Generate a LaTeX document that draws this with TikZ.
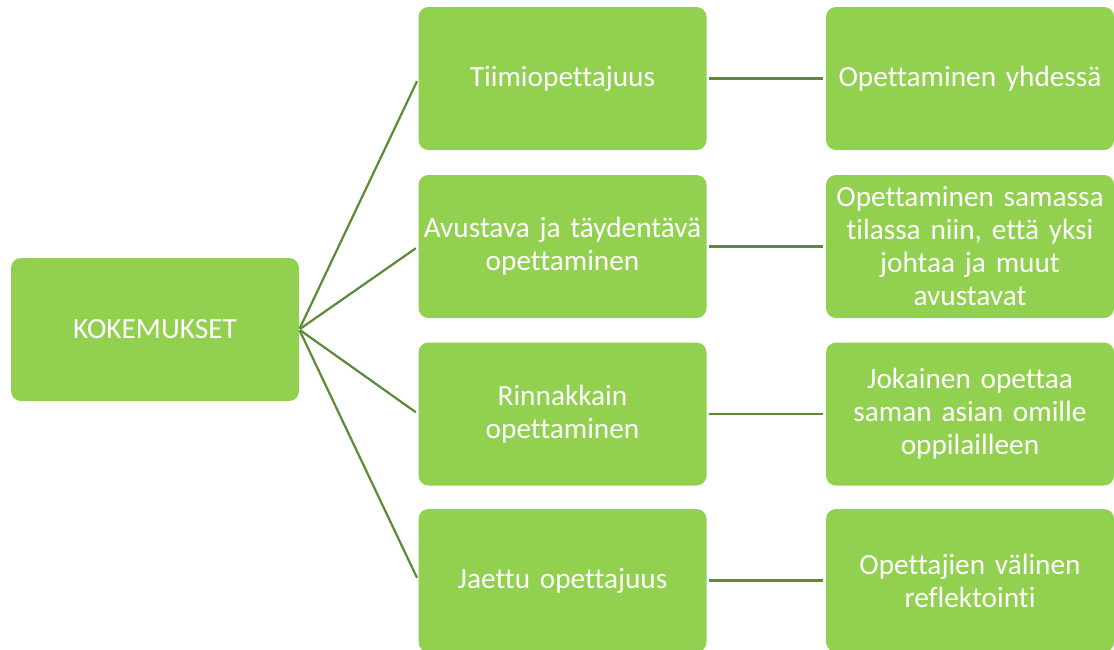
\documentclass[tikz,border=0pt]{standalone}
\usepackage{fontspec}
\setmainfont[Ligatures={NoCommon,NoContextual},Contextuals={NoAlternate}]{Carlito}
\definecolor{boxgreen}{HTML}{92D050}
\definecolor{linegreen}{HTML}{5B8C35}
\begin{document}
\begin{tikzpicture}[x=1pt,y=-1pt,
  gbox/.style={rectangle, rounded corners=10pt, fill=boxgreen, draw=none,
    minimum width=288pt, minimum height=143pt, inner sep=0pt,
    text=white, align=center, text width=284pt,
    font=\fontsize{29.3}{33}\selectfont},
  conn/.style={draw=linegreen, line width=2.2pt}]
\useasboundingbox (0,0) rectangle (1114,649);
\clip (0,0) rectangle (1114,649);
\node[gbox] (K) at (155,329.5) {KOKEMUKSET};
\node[gbox] (M1) at (562.5,78.5) {Tiimiopettajuus};
\node[gbox] (M2) at (562.5,246.5) {Avustava ja täydentävä\\opettaminen};
\node[gbox] (M3) at (562.5,414) {Rinnakkain\\opettaminen};
\node[gbox] (M4) at (562.5,580.5) {Jaettu opettajuus};
\node[gbox] (R1) at (970,78.5) {Opettaminen yhdessä};
\node[gbox] (R2) at (970,246.5) {Opettaminen samassa\\tilassa niin, että yksi\\johtaa ja muut\\avustavat};
\node[gbox] (R3) at (970,414) {Jokainen opettaa\\saman asian omille\\oppilailleen};
\node[gbox] (R4) at (970,580.5) {Opettajien välinen\\reflektointi};
\foreach \m in {M1,M2,M3,M4}{
  \draw[conn, shorten <=1pt, shorten >=3pt] (K.east) -- (\m.west);
}
\foreach \m/\r in {M1/R1,M2/R2,M3/R3,M4/R4}{
  \draw[conn, shorten <=2pt, shorten >=3pt] (\m.east) -- (\r.west);
}
\end{tikzpicture}
\end{document}
